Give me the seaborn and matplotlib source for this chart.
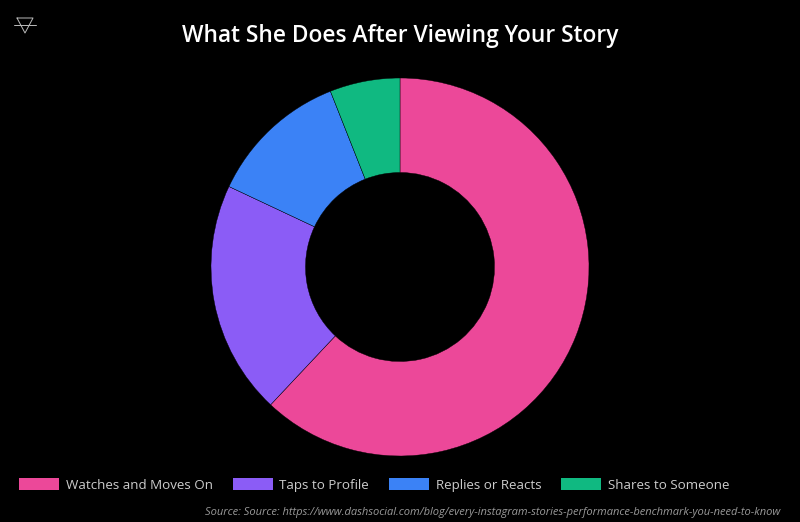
import matplotlib
matplotlib.use("Agg")
import matplotlib.pyplot as plt
from matplotlib.lines import Line2D
from matplotlib.patches import Patch
import seaborn as sns

# data
labels = ['Watches and Moves On', 'Taps to Profile', 'Replies or Reacts', 'Shares to Someone']
values = [62, 20, 12, 6]
colors = ['#ec4899', '#8b5cf6', '#3b82f6', '#10b981']

sns.set_theme(style="dark")
plt.rcParams['font.family'] = ['Open Sans', 'DejaVu Sans']

fig = plt.figure(figsize=(8, 5.22), dpi=100, facecolor='black')

# donut axes: centre (400, 267) px, radius 189 px
r_px = 189
ax = fig.add_axes([(400 - r_px) / 800, (522 - 267 - r_px) / 522, 2 * r_px / 800, 2 * r_px / 522])
ax.set_facecolor('black')
ax.pie(values, colors=sns.color_palette(colors), startangle=90, counterclock=False,
       radius=1, wedgeprops=dict(width=0.5, edgecolor='black', linewidth=0.3))
ax.set_xlim(-1, 1)
ax.set_ylim(-1, 1)
ax.set_aspect('equal')
ax.axis('off')

fig.text(0.5, 1 - 36 / 522, 'What She Does After Viewing Your Story', ha='center', va='center',
         color='white', fontsize=16.4, fontweight='semibold')

# legend along the bottom
handles = [Patch(facecolor=c, edgecolor='none') for c in colors]
leg = fig.legend(handles, labels, loc='center left', bbox_to_anchor=(7 / 800, 1 - 485 / 522),
                 ncol=4, frameon=False, fontsize=9.6, handlelength=3.0, handleheight=0.95,
                 handletextpad=0.5, columnspacing=1.5)
for t in leg.get_texts():
    t.set_color('#cccccc')

fig.text(780 / 800, 1 - 513 / 522,
         'Source: Source: https://www.dashsocial.com/blog/every-instagram-stories-performance-benchmark-you-need-to-know',
         ha='right', va='center', color='#999999', fontsize=8, style='italic')

# small logo mark top-left
fig.add_artist(Line2D([14 / 800, 36 / 800], [1 - 25 / 522, 1 - 25 / 522], color='#bbbbbb', lw=0.7))
fig.add_artist(Line2D([17 / 800, 33 / 800, 25 / 800, 17 / 800],
                      [1 - 18 / 522, 1 - 18 / 522, 1 - 33 / 522, 1 - 18 / 522], color='#bbbbbb', lw=0.7))

fig.savefig('out.png', dpi=100, facecolor='black')
